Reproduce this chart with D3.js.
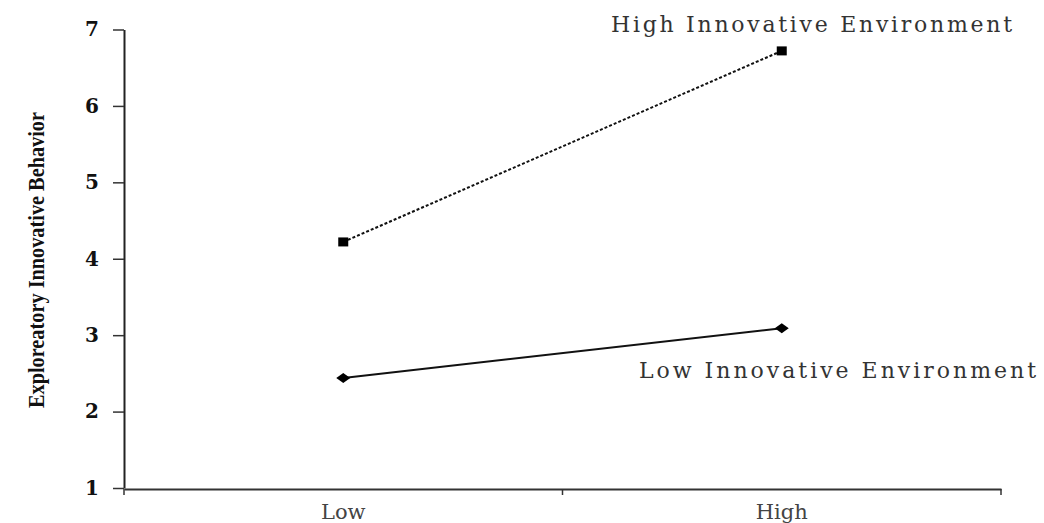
<!DOCTYPE html>
<html><head><meta charset="utf-8">
<script src="https://cdn.jsdelivr.net/npm/d3@7"></script>
<style>body{margin:0;background:#fff;}svg{display:block;}</style>
</head><body>
<svg id="c" width="1044" height="523"></svg>
<script>
const categories = ["Low", "High"];
const seriesNames = ["High Innovative Environment", "Low Innovative Environment"];
const highEnvValues = [4.22, 6.72];
const lowEnvValues = [2.44, 3.09];
const yTicks = [1, 2, 3, 4, 5, 6, 7];
const yTitle = "Exploreatory Innovative Behavior";

const svg = d3.select("#c");
const x = d3.scaleBand().domain(categories).range([124, 1001]);
const y = d3.scaleLinear().domain([1, 7]).range([488, 29.5]);

// y axis
const yAxis = d3.axisLeft(y).tickValues(yTicks).tickFormat(d3.format("d"))
  .tickSize(11).tickSizeOuter(0).tickPadding(14);
const gy = svg.append("g").attr("transform", "translate(124,0)").call(yAxis);
gy.select(".domain").attr("stroke", "#222").attr("stroke-width", 2);
gy.selectAll(".tick line").attr("stroke", "#333").attr("stroke-width", 1.5);
gy.selectAll(".tick text").attr("font-family", "'DejaVu Serif', serif").attr("font-weight", "bold")
  .attr("font-size", 20).attr("fill", "#111");

// x axis
const xAxis = d3.axisBottom(x).tickSize(0).tickPadding(13);
const gx = svg.append("g").attr("transform", "translate(0,489)").call(xAxis);
gx.select(".domain").attr("stroke", "#333").attr("stroke-width", 2);
gx.selectAll(".tick text").attr("font-family", "'DejaVu Serif', serif")
  .attr("font-size", 21).attr("fill", "#444").attr("dy", "0.8em");
// boundary ticks
const bounds = [x.range()[0], x(categories[1]), x.range()[1]];
gx.selectAll(".btick").data(bounds).enter().append("line")
  .attr("x1", d => d).attr("x2", d => d).attr("y1", 0).attr("y2", 6)
  .attr("stroke", "#333").attr("stroke-width", 1.5);

const cx = d => x(d) + x.bandwidth() / 2;
const line = d3.line().x(d => cx(d.c)).y(d => y(d.v));
const hiData = categories.map((c, i) => ({c, v: highEnvValues[i]}));
const loData = categories.map((c, i) => ({c, v: lowEnvValues[i]}));

svg.append("path").datum(hiData).attr("d", line).attr("fill", "none")
  .attr("stroke", "#111").attr("stroke-width", 2).attr("stroke-dasharray", "3,2");
svg.append("path").datum(loData).attr("d", line).attr("fill", "none")
  .attr("stroke", "#111").attr("stroke-width", 2);

svg.selectAll(".sq").data(hiData).enter().append("rect")
  .attr("x", d => cx(d.c) - 5).attr("y", d => y(d.v) - 4.5)
  .attr("width", 10).attr("height", 9).attr("fill", "#000");
svg.selectAll(".dm").data(loData).enter().append("path")
  .attr("transform", d => `translate(${cx(d.c)},${y(d.v)})`)
  .attr("d", "M0,-5L7,0L0,5L-7,0Z").attr("fill", "#000");

// series labels
svg.append("text").attr("x", 611).attr("y", 32).text(seriesNames[0])
  .attr("font-family", "'DejaVu Serif', serif").attr("font-size", 22)
  .attr("fill", "#333").attr("textLength", 401).attr("lengthAdjust", "spacing");
svg.append("text").attr("x", 639).attr("y", 378).text(seriesNames[1])
  .attr("font-family", "'DejaVu Serif', serif").attr("font-size", 22)
  .attr("fill", "#333").attr("textLength", 397).attr("lengthAdjust", "spacing");

// y title
svg.append("text").attr("transform", "translate(44,260) rotate(-90)")
  .attr("text-anchor", "middle").text(yTitle)
  .attr("font-family", "'Liberation Serif', serif").attr("font-weight", "bold")
  .attr("font-size", 23).attr("fill", "#111")
  .attr("textLength", 296).attr("lengthAdjust", "spacingAndGlyphs");
</script>
</body></html>
